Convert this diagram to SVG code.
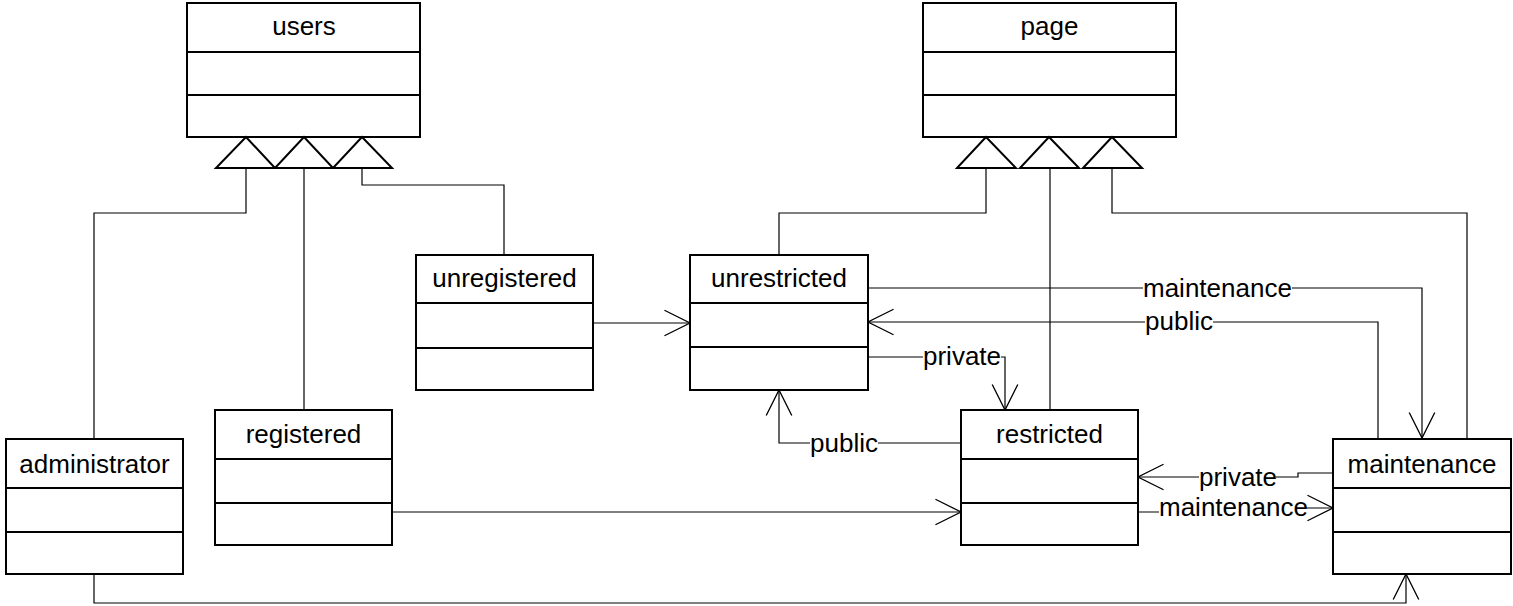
<svg xmlns="http://www.w3.org/2000/svg" width="1513" height="606" viewBox="0 0 1513 606">
<style>
.box rect{fill:#fff;stroke:#000;stroke-width:2}
.box line{stroke:#000;stroke-width:2}
.name{font-family:"Liberation Sans",Arial,sans-serif;font-size:26px;fill:#000;text-anchor:middle}
.lbl{font-family:"Liberation Sans",Arial,sans-serif;font-size:26px;fill:#000}
.tri{fill:#fff;stroke:#000;stroke-width:2}
.c{fill:none;stroke:#000;stroke-width:1.2}
.a{marker-end:url(#open)}
.bg{fill:#fff}
</style>
<defs>
<marker id="open" markerUnits="userSpaceOnUse" markerWidth="30" markerHeight="30" refX="0" refY="0" viewBox="-25 -13 27 26" orient="auto" overflow="visible">
<path d="M-23,-11.5 L0,0 L-23,11.5" fill="none" stroke="#000" stroke-width="1.2"/>
</marker>
</defs>
<rect width="1513" height="606" fill="#fff"/>
<g id="connectors">
<path class="c" d="M94 439 V213 H246 V168"/>
<path class="c" d="M304 410 V168"/>
<path class="c" d="M504 255 V185 H362 V168"/>
<path class="c" d="M779 255 V213 H986 V168"/>
<path class="c" d="M1050 410 V168"/>
<path class="c" d="M1467 439 V213 H1112 V168"/>
<path class="c a" d="M593 323 H690"/>
<path class="c a" d="M868 288 H1422 V438"/>
<path class="c a" d="M1378 439 V322 H868"/>
<path class="c a" d="M868 357 H1005 V410"/>
<path class="c a" d="M961 443 H779 V390"/>
<path class="c a" d="M392 512 H961"/>
<path class="c a" d="M1333 473 H1298 V477 H1138"/>
<path class="c a" d="M1138 512 H1230 V508 H1333"/>
<path class="c a" d="M94 574 V603 H1406 V574"/>
<rect class="bg" x="1143" y="276" width="149" height="24"/>
<text class="lbl" x="1143" y="297">maintenance</text>
<rect class="bg" x="1145" y="310" width="68" height="24"/>
<text class="lbl" x="1145" y="330">public</text>
<rect class="bg" x="923" y="345" width="78" height="22"/>
<text class="lbl" x="923" y="365">private</text>
<rect class="bg" x="810" y="431" width="68" height="24"/>
<text class="lbl" x="810" y="452">public</text>
<rect class="bg" x="1199" y="466" width="77" height="22"/>
<text class="lbl" x="1199" y="486">private</text>
<rect class="bg" x="1159" y="497" width="148" height="22"/>
<text class="lbl" x="1159" y="516">maintenance</text>
</g>
<g id="users" class="box">
<rect x="187" y="3" width="233" height="134"/>
<line x1="187" y1="52" x2="420" y2="52"/>
<line x1="187" y1="95" x2="420" y2="95"/>
<text class="name" x="304" y="35">users</text>
<polygon class="tri" points="246,137 216,168 275,168"/>
<polygon class="tri" points="304,137 275,168 333,168"/>
<polygon class="tri" points="362,137 333,168 392,168"/>
</g>
<g id="page" class="box">
<rect x="923" y="3" width="253" height="134"/>
<line x1="923" y1="52" x2="1176" y2="52"/>
<line x1="923" y1="95" x2="1176" y2="95"/>
<text class="name" x="1049.5" y="35">page</text>
<polygon class="tri" points="986,137 957,168 1016,168"/>
<polygon class="tri" points="1049,137 1020,168 1079,168"/>
<polygon class="tri" points="1112,137 1083,168 1142,168"/>
</g>
<g id="unregistered" class="box">
<rect x="416" y="255" width="177" height="135"/>
<line x1="416" y1="303" x2="593" y2="303"/>
<line x1="416" y1="348" x2="593" y2="348"/>
<text class="name" x="504.5" y="287">unregistered</text>
</g>
<g id="unrestricted" class="box">
<rect x="690" y="255" width="178" height="135"/>
<line x1="690" y1="303" x2="868" y2="303"/>
<line x1="690" y1="347" x2="868" y2="347"/>
<text class="name" x="779" y="287">unrestricted</text>
</g>
<g id="administrator" class="box">
<rect x="6" y="439" width="177" height="135"/>
<line x1="6" y1="488" x2="183" y2="488"/>
<line x1="6" y1="532" x2="183" y2="532"/>
<text class="name" x="94.5" y="473">administrator</text>
</g>
<g id="registered" class="box">
<rect x="215" y="410" width="177" height="135"/>
<line x1="215" y1="459" x2="392" y2="459"/>
<line x1="215" y1="503" x2="392" y2="503"/>
<text class="name" x="303.5" y="443">registered</text>
</g>
<g id="restricted" class="box">
<rect x="961" y="410" width="177" height="135"/>
<line x1="961" y1="459" x2="1138" y2="459"/>
<line x1="961" y1="503" x2="1138" y2="503"/>
<text class="name" x="1049.5" y="443">restricted</text>
</g>
<g id="maintenance" class="box">
<rect x="1333" y="439" width="178" height="135"/>
<line x1="1333" y1="488" x2="1511" y2="488"/>
<line x1="1333" y1="532" x2="1511" y2="532"/>
<text class="name" x="1422" y="473">maintenance</text>
</g>
</svg>
